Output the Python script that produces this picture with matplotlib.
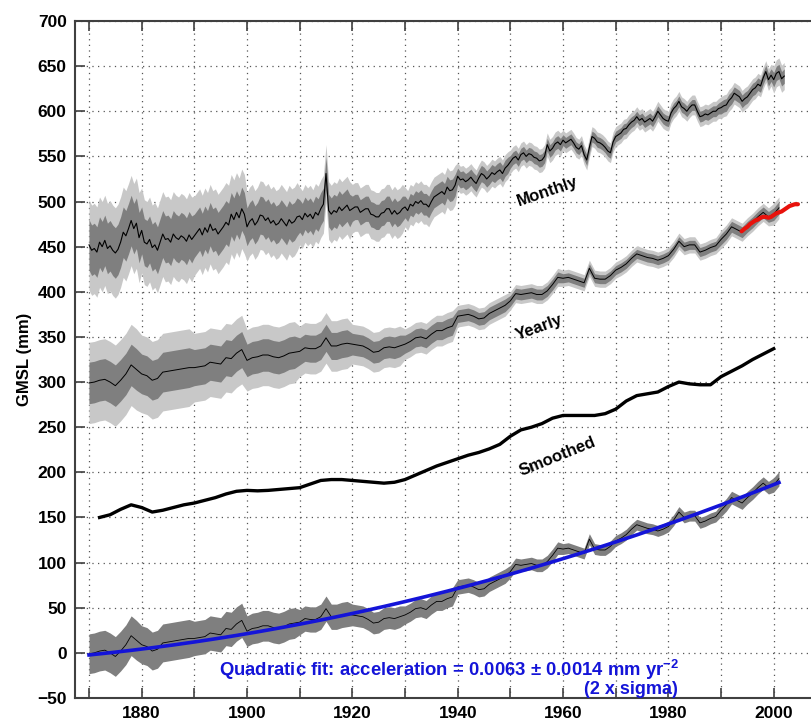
import numpy as np
import matplotlib
matplotlib.use("Agg")
import matplotlib.pyplot as plt
from matplotlib.ticker import MultipleLocator, FuncFormatter

plt.rcParams['font.family'] = ['Liberation Sans', 'DejaVu Sans']
plt.rcParams['mathtext.fontset'] = 'custom'
plt.rcParams['mathtext.rm'] = 'Liberation Sans:bold'
plt.rcParams['mathtext.bf'] = 'Liberation Sans:bold'
plt.rcParams['mathtext.default'] = 'bf'

# ---------------- data ----------------
years = np.arange(1870, 2002)
gmsl_yearly = [
    -1, 0, 2, 3, 0, -4, 2, 9, 19, 14,
    9, 7, 2, 4, 11, 12, 13, 14, 15, 16,
    16, 17, 18, 22, 21, 20, 27, 26, 32, 36,
    24, 27, 28, 30, 30, 28, 27, 29, 32, 33,
    34, 38, 37, 37, 40, 49, 40, 40, 42, 43,
    42, 41, 40, 37, 33, 34, 38, 39, 38, 40,
    42, 45, 49, 50, 48, 53, 57, 57, 60, 62,
    73, 74, 75, 73, 70, 71, 76, 79, 82, 85,
    90, 98, 97, 98, 99, 97, 97, 101, 108, 116,
    115, 116, 114, 112, 110, 126, 115, 114, 114, 118,
    124, 127, 131, 137, 142, 140, 138, 137, 135, 137,
    140, 147, 156, 150, 152, 152, 144, 146, 149, 151,
    158, 164, 172, 169, 166, 172, 177, 183, 188, 183,
    186, 193,
]

# half-yearly samples of the "Monthly" curve (already offset as drawn)
monthly_start = 1870.0
monthly_step = 0.5
gmsl_monthly = [
    452, 446, 448, 444, 455, 450, 457, 448, 451, 446,
    443, 447, 455, 466, 462, 470, 479, 470, 476, 460,
    468, 455, 453, 458, 449, 452, 446, 455, 464, 458,
    459, 455, 464, 460, 458, 462, 460, 456, 463, 458,
    462, 466, 470, 463, 471, 466, 475, 468, 470, 464,
    468, 472, 477, 474, 486, 480, 488, 482, 492, 486,
    472, 478, 481, 474, 478, 485, 484, 479, 482, 476,
    479, 474, 476, 481, 477, 473, 480, 476, 478, 483,
    484, 480, 487, 483, 486, 481, 488, 485, 492, 497,
    531, 490, 486, 490, 488, 494, 490, 493, 496, 490,
    492, 494, 494, 488, 490, 492, 492, 486, 485, 483,
    483, 487, 488, 492, 492, 486, 490, 486, 488, 492,
    494, 490, 497, 495, 500, 498, 501, 497, 497, 494,
    500, 505, 507, 509, 511, 508, 516, 512, 513, 518,
    528, 524, 525, 522, 524, 527, 523, 520, 526, 531,
    529, 525, 528, 532, 530, 533, 535, 531, 537, 540,
    544, 548, 550, 546, 552, 554, 550, 553, 552, 549,
    548, 545, 546, 550, 563, 556, 559, 564, 566, 563,
    568, 565, 567, 569, 565, 560, 558, 562, 552, 546,
    560, 572, 570, 566, 565, 563, 560, 556, 554, 566,
    572, 574, 576, 580, 581, 585, 588, 590, 594, 590,
    592, 588, 590, 592, 589, 594, 600, 596, 592, 590,
    589, 598, 603, 606, 611, 605, 603, 600, 604, 607,
    607, 600, 594, 595, 597, 596, 598, 600, 600, 603,
    604, 606, 607, 612, 615, 620, 618, 616, 611, 614,
    616, 620, 624, 626, 630, 628, 637, 644, 635, 640,
    635, 642, 644, 636, 639,
]

smoothed_years = np.arange(1872, 2001, 2)
gmsl_smoothed = [
    150, 153, 159, 164, 161, 156, 158, 161, 164, 166,
    169, 172, 176, 179, 180, 179.5, 180, 181, 182, 183,
    187, 191, 192, 192, 191, 190, 189, 188, 189, 192,
    197, 202, 207, 211, 215, 219, 222, 226, 231, 240,
    247, 250, 254, 260, 263, 263, 263, 263, 265, 270,
    279, 285, 287, 289, 295, 300, 298, 297, 297, 306,
    312, 318, 325, 331, 337,
]

altimetry_years = [1993.9, 1994.5, 1995, 1995.5, 1996, 1996.5, 1997, 1997.5,
                   1998, 1998.5, 1999, 1999.5, 2000, 2000.5, 2001, 2001.5,
                   2002, 2002.5, 2003, 2003.5, 2004, 2004.6]
altimetry_gmsl = [467, 470, 472, 475, 477, 479, 480, 482,
                  483, 483, 482, 483, 485, 487, 488, 489,
                  491, 493, 495, 496, 497, 497]

# decadal half-widths of the uncertainty bands (1870s ... 2000s)
monthly_err_1 = [28, 26, 24, 21, 18, 14, 12, 9, 7, 6, 6, 6, 7, 8]
monthly_err_2 = [50, 47, 44, 38, 32, 27, 22, 15, 13, 11, 11, 11, 12, 15]
yearly_err_1 = [23, 22, 20, 18, 15, 12, 10, 7, 6, 5, 5, 5, 6, 7]
yearly_err_2 = [45, 43, 38, 34, 28, 22, 17, 12, 10, 9, 9, 9, 10, 12]
bottom_err = [22, 21, 19, 17, 14, 12, 10, 8, 7, 6, 6, 6, 7, 8]

yearly_offset = 300

ytick_vals = np.arange(-50, 701, 50)

# ---------------- figure ----------------
fig = plt.figure(figsize=(8.12, 7.25), dpi=100)
ax = fig.add_axes([75/812, 27/725, 1 - 75/812, 677/725])

light = '#c8c8c8'
dark = '#7f7f7f'
blue = '#1414d8'


def err_for(t, arr):
    idx = np.clip(((np.asarray(t) - 1870) // 10).astype(int), 0, len(arr) - 1)
    return np.asarray(arr, float)[idx]


# Monthly
m = np.asarray(gmsl_monthly, float)
mt = monthly_start + monthly_step * np.arange(len(m))
e2 = err_for(mt, monthly_err_2)
e1 = err_for(mt, monthly_err_1)
ax.fill_between(mt, m - e2, m + e2, color=light, lw=0, zorder=2)
ax.fill_between(mt, m - e1, m + e1, color=dark, lw=0, zorder=3)
ax.plot(mt, m, color='black', lw=0.8, zorder=4)

# Yearly
y = np.asarray(gmsl_yearly, float) + yearly_offset
e2 = err_for(years, yearly_err_2)
e1 = err_for(years, yearly_err_1)
ax.fill_between(years, y - e2, y + e2, color=light, lw=0, zorder=2)
ax.fill_between(years, y - e1, y + e1, color=dark, lw=0, zorder=3)
ax.plot(years, y, color='black', lw=0.7, zorder=4)
ax.plot(altimetry_years, altimetry_gmsl, color='#e8120c', lw=3, zorder=5,
        solid_capstyle='round')

# Smoothed
ax.plot(smoothed_years, gmsl_smoothed, color='black', lw=2.4, zorder=4)

# Bottom series with (error-weighted) quadratic fit
b = np.asarray(gmsl_yearly, float)
eb = err_for(years, bottom_err)
ax.fill_between(years, b - eb, b + eb, color=dark, lw=0, zorder=3)
ax.plot(years, b, color='black', lw=0.6, zorder=4)
coef = np.polyfit(years, b, 2, w=1.0 / eb)
ax.plot(years, np.polyval(coef, years), color=blue, lw=2.6, zorder=5)

# Labels
tkw = dict(fontweight='bold', fontsize=12, ha='center', va='center')
ax.text(1957.0, 511, 'Monthly', rotation=19, **tkw)
ax.text(1955.4, 360, 'Yearly', rotation=20, **tkw)
ax.text(1958.9, 217, 'Smoothed', rotation=22, **tkw)
ax.text(1894.6, -19, 'Quadratic fit: acceleration = 0.0063 \u00b1 0.0014 mm yr$^{-2}$',
        color=blue, fontweight='bold', fontsize=13.3, ha='left', va='center')
ax.text(1972.9, -41, '(2 x sigma)', color=blue, fontweight='bold',
        fontsize=13, ha='center', va='center')

# Axes
ax.set_xlim(1867.34, 2007.27)
ax.set_ylim(-50, 700)
ax.set_yticks(ytick_vals)
ax.xaxis.set_major_locator(MultipleLocator(10))
ax.xaxis.set_major_formatter(FuncFormatter(
    lambda v, p: f'{int(round(v))}' if int(round(v)) % 20 == 0 else ''))
ax.tick_params(direction='in', length=7, width=1.2, top=True, right=False,
               labelsize=12.5, colors='#404040', labelcolor='black', pad=6)
for lbl in ax.get_xticklabels() + ax.get_yticklabels():
    lbl.set_fontweight('bold')
ax.set_ylabel('GMSL (mm)', fontweight='bold', fontsize=12, labelpad=4)
ax.grid(True, color='#555555', linestyle=(0, (1, 3.5)), linewidth=0.9, zorder=0)
ax.set_axisbelow(True)
for s in ['left', 'bottom', 'top']:
    ax.spines[s].set_color('#404040')
    ax.spines[s].set_linewidth(1.5)
ax.spines['right'].set_visible(False)

fig.savefig('out.png', dpi=100)
